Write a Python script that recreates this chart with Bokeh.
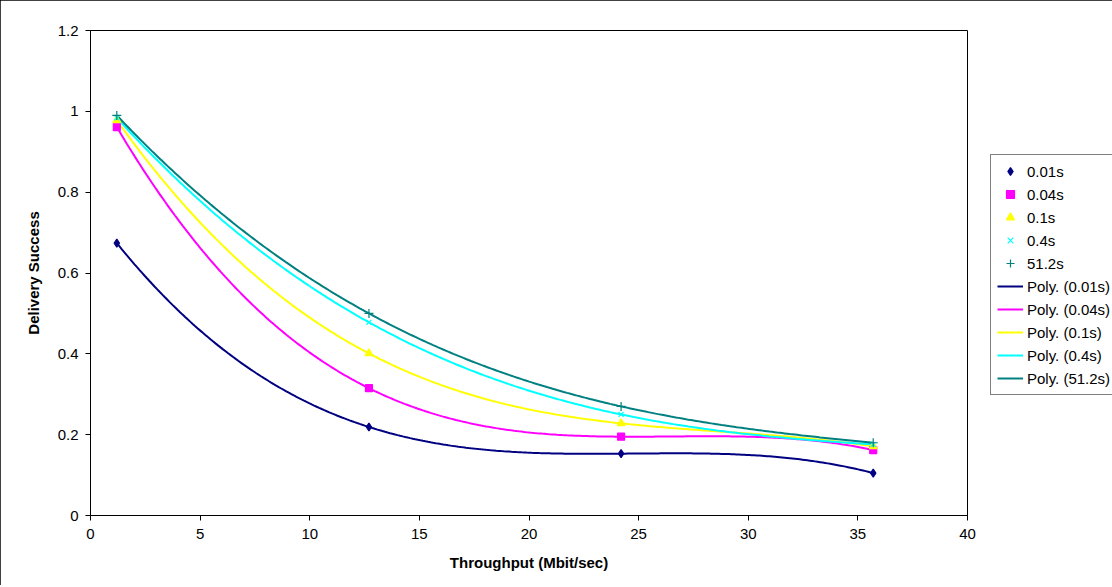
import numpy as np
from bokeh.plotting import figure
from bokeh.models import Range1d, FixedTicker, CustomJSTickFormatter, Legend, LegendItem
from bokeh.embed import file_html
from bokeh.resources import INLINE

# ---- data ----
throughput = [1.2, 12.7, 24.2, 35.7]
s001 = [0.674, 0.219, 0.153, 0.105]
s004 = [0.961, 0.315, 0.195, 0.162]
s01 = [0.978, 0.401, 0.228, 0.171]
s04 = [0.984, 0.478, 0.250, 0.176]
s512 = [0.990, 0.500, 0.270, 0.180]
series_labels = ["0.01s", "0.04s", "0.1s", "0.4s", "51.2s"]
x_ticks = [0, 5, 10, 15, 20, 25, 30, 35, 40]
y_ticks = [0, 0.2, 0.4, 0.6, 0.8, 1.0, 1.2]

series = [s001, s004, s01, s04, s512]
colors = ["#000080", "#FF00FF", "#FFFF00", "#00FFFF", "#008080"]
markers = ["diamond", "square", "triangle", "x", "cross"]
sizes = [8, 7, 8, 7, 9]

FONT = "Liberation Sans"

p = figure(frame_width=877, frame_height=485,
           min_border_left=90, min_border_right=145,
           min_border_top=30, min_border_bottom=70,
           x_range=Range1d(0, 40), y_range=Range1d(0, 1.2),
           output_backend="svg", toolbar_location=None)
p.styles = {"outline": "1px solid black", "outline-offset": "-1px"}
p.background_fill_color = "white"
p.border_fill_color = "white"
p.outline_line_color = "black"
p.outline_line_width = 1
p.xgrid.visible = False
p.ygrid.visible = False

for ax in (p.xaxis[0], p.yaxis[0]):
    ax.axis_line_color = "black"
    ax.major_tick_line_color = "black"
    ax.major_tick_in = 0
    ax.major_tick_out = 5
    ax.minor_tick_line_color = None
    ax.major_label_text_font = FONT
    ax.major_label_text_font_size = "15px"
    ax.major_label_text_color = "black"
    ax.axis_label_text_font = FONT
    ax.axis_label_text_font_size = "15px"
    ax.axis_label_text_font_style = "bold"
    ax.axis_label_text_color = "black"

p.xaxis.ticker = FixedTicker(ticks=x_ticks)
p.yaxis.ticker = FixedTicker(ticks=y_ticks)
p.yaxis.formatter = CustomJSTickFormatter(code="return String(parseFloat(tick.toFixed(2)));")
p.xaxis.axis_label = "Throughput (Mbit/sec)"
p.yaxis.axis_label = "Delivery Success"
p.xaxis.major_label_standoff = 8
p.yaxis.major_label_standoff = 7
p.xaxis.axis_label_standoff = 12
p.yaxis.axis_label_standoff = 13

marker_items = []
line_items = []
# polynomial (order 3) trendlines, as in the original spreadsheet chart
for vals, col, lab in zip(series, colors, series_labels):
    coef = np.polyfit(throughput, vals, 3)
    xs = np.linspace(min(throughput), max(throughput), 300)
    ys = np.polyval(coef, xs)
    r = p.line(xs, ys, line_color=col, line_width=2)
    line_items.append(LegendItem(label="Poly. (" + lab + ")", renderers=[r]))

for vals, col, mk, sz, lab in zip(series, colors, markers, sizes, series_labels):
    r = p.scatter(throughput, vals, marker=mk, size=sz, fill_color=col,
                  line_color=col, line_width=1.2)
    marker_items.append(LegendItem(label=lab, renderers=[r]))

legend = Legend(items=marker_items + line_items, location=(23, 120))
legend.border_line_color = "black"
legend.border_line_width = 1
legend.background_fill_color = "white"
legend.background_fill_alpha = 1
legend.label_text_font = FONT
legend.label_text_font_size = "15px"
legend.label_text_color = "black"
legend.glyph_width = 26
legend.glyph_height = 20
legend.label_height = 20
legend.label_standoff = 4
legend.spacing = 3
legend.padding = 6
legend.margin = 0
p.add_layout(legend, "right")

open("out.html", "w").write(file_html(p, INLINE))
